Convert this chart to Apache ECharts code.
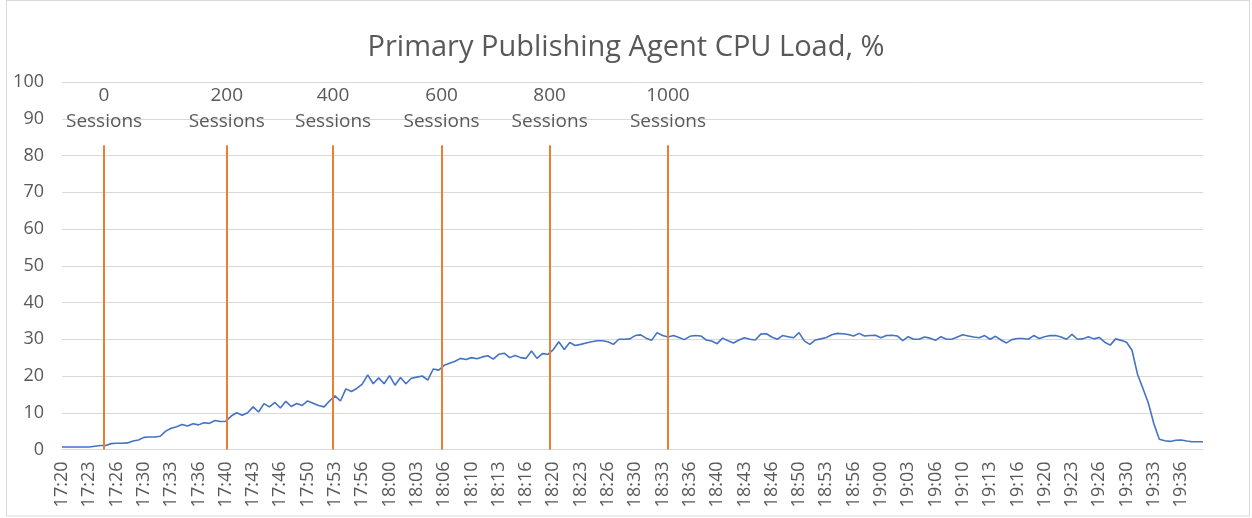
<!DOCTYPE html>
<html>
<head>
<meta charset="utf-8">
<script src="https://cdn.jsdelivr.net/npm/echarts@6/dist/echarts.min.js"></script>
<style>
html,body{margin:0;padding:0;background:#fff;}
#chart{width:1252px;height:518px;}
</style>
</head>
<body>
<div id="chart"></div>
<script>
// ---- data ----
const chartTitle = 'Primary Publishing Agent CPU Load, %';
const startClock = [17, 20, 0];     // first sample 17:20:00
const sampleStepSec = 40;           // one reading every 40 s
const axisEndSec = 8360;            // last sample 19:39:20
const labelStepSec = 200;           // axis label every 3 min 20 s

const cpuLoad = [
  0.7, 0.7, 0.7, 0.7, 0.7, 0.7, 0.9, 1.1, 1.1, 1.6,
  1.7, 1.7, 1.8, 2.3, 2.6, 3.3, 3.4, 3.4, 3.6, 5.0,
  5.8, 6.2, 6.8, 6.4, 7.0, 6.7, 7.3, 7.1, 7.9, 7.6,
  7.7, 9.1, 10.0, 9.3, 10.0, 11.6, 10.2, 12.5, 11.6, 12.8,
  11.3, 13.1, 11.7, 12.5, 12.0, 13.2, 12.6, 12.0, 11.6, 13.2,
  14.6, 13.2, 16.5, 15.8, 16.6, 17.8, 20.3, 17.9, 19.5, 17.9,
  20.1, 17.5, 19.6, 17.9, 19.4, 19.7, 20.0, 18.9, 21.9, 21.6,
  22.9, 23.5, 24.0, 24.8, 24.5, 25.0, 24.7, 25.2, 25.5, 24.6,
  25.9, 26.2, 25.0, 25.6, 25.0, 24.8, 26.8, 24.8, 26.1, 25.9,
  27.2, 29.3, 27.2, 29.1, 28.3, 28.6, 29.0, 29.3, 29.6, 29.6,
  29.3, 28.6, 30.0, 30.0, 30.1, 31.0, 31.2, 30.3, 29.7, 31.8,
  31.0, 30.6, 31.0, 30.5, 29.9, 30.8, 31.0, 30.9, 29.8, 29.5,
  28.8, 30.3, 29.6, 29.0, 29.8, 30.4, 30.0, 29.8, 31.4, 31.5,
  30.6, 30.0, 31.0, 30.7, 30.4, 31.8, 29.5, 28.6, 29.8, 30.1,
  30.5, 31.2, 31.6, 31.5, 31.3, 30.9, 31.6, 30.9, 31.0, 31.1,
  30.4, 31.0, 31.1, 30.9, 29.6, 30.7, 30.0, 30.0, 30.6, 30.3,
  29.7, 30.7, 30.0, 30.0, 30.6, 31.2, 30.9, 30.6, 30.4, 31.0,
  30.0, 30.8, 29.8, 29.0, 29.9, 30.2, 30.2, 30.0, 31.0, 30.2,
  30.7, 31.0, 31.0, 30.6, 30.0, 31.3, 30.0, 30.1, 30.7, 30.1,
  30.5, 29.2, 28.4, 30.1, 29.7, 29.2, 27.0, 20.5, 16.6, 12.6,
  7.0, 2.8, 2.4, 2.2, 2.5, 2.6, 2.3, 2.1, 2.1, 2.1
];

const sessionCounts = ['0', '200', '400', '600', '800', '1000'];
const sessionMarkSec = [308, 1207, 1986, 2781, 3573, 4440];
const sessionLineTop = 82.8;

// ---- build ----
const sampleSec = cpuLoad.map((_, i) => i * sampleStepSec);
const seriesData = cpuLoad.map((v, i) => [sampleSec[i], v]);

function clockLabel(sec) {
  const base = startClock[0] * 3600 + startClock[1] * 60 + startClock[2];
  const t = base + Math.round(sec);
  const h = Math.floor(t / 3600);
  const m = Math.floor((t % 3600) / 60);
  return h + ':' + String(m).padStart(2, '0');
}

const FONT = '"Open Sans", "Noto Sans", sans-serif';
const TXT = '#595959';

const markData = sessionMarkSec.map((s, i) => [
  { coord: [s, 0] },
  { coord: [s, sessionLineTop], label: { formatter: sessionCounts[i] + '\nSessions' } }
]);

const chart = echarts.init(document.getElementById('chart'), null, { renderer: 'canvas' });
chart.setOption({
  animation: false,
  backgroundColor: '#ffffff',
  title: {
    text: chartTitle,
    left: 'center',
    top: 28,
    textStyle: { fontFamily: FONT, fontSize: 29, fontWeight: 'normal', color: TXT }
  },
  graphic: [{
    type: 'rect',
    shape: { x: 6.5, y: 0.5, width: 1243, height: 515.5 },
    style: { fill: 'none', stroke: '#d9d9d9', lineWidth: 1 },
    silent: true
  }],
  grid: { left: 62, right: 49, top: 82, bottom: 68.5, containLabel: false },
  xAxis: {
    type: 'value',
    min: 0,
    max: axisEndSec,
    interval: labelStepSec,
    axisLine: { show: true, lineStyle: { color: '#d9d9d9', width: 1 } },
    axisTick: { show: false },
    splitLine: { show: false },
    axisLabel: {
      rotate: 90,
      margin: 12,
      showMaxLabel: false,
      fontFamily: FONT,
      fontSize: 18,
      color: TXT,
      formatter: v => clockLabel(v)
    }
  },
  yAxis: {
    type: 'value',
    min: 0,
    max: 100,
    interval: 10,
    axisLine: { show: false },
    axisTick: { show: false },
    splitLine: { lineStyle: { color: '#d9d9d9', width: 1 } },
    axisLabel: { margin: 18, fontFamily: FONT, fontSize: 18, color: TXT }
  },
  series: [{
    type: 'line',
    data: seriesData,
    showSymbol: false,
    lineStyle: { color: '#4472c4', width: 1.6 },
    itemStyle: { color: '#4472c4' },
    markLine: {
      silent: true,
      symbol: ['none', 'none'],
      lineStyle: { color: '#ed7d31', width: 2, type: 'solid' },
      label: {
        show: true,
        position: 'end',
        distance: 11,
        fontFamily: FONT,
        fontSize: 19,
        lineHeight: 26,
        color: TXT,
        align: 'center'
      },
      data: markData
    }
  }]
});
</script>
</body>
</html>
